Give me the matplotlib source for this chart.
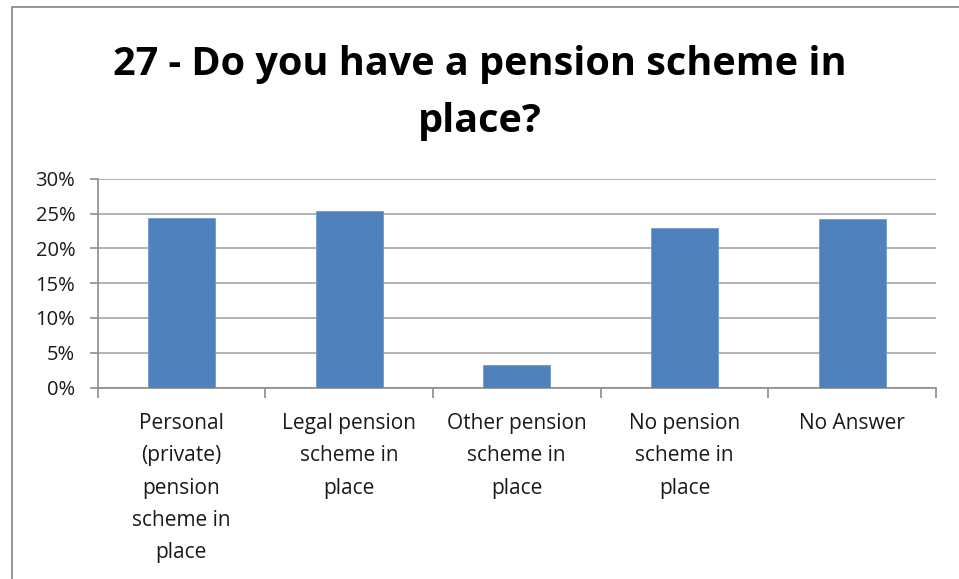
import matplotlib
matplotlib.use("Agg")
import matplotlib.pyplot as plt
from matplotlib.ticker import FuncFormatter, FixedLocator, NullFormatter
from matplotlib.patches import Rectangle

categories = ["Personal\n(private)\npension\nscheme in\nplace",
              "Legal pension\nscheme in\nplace",
              "Other pension\nscheme in\nplace",
              "No pension\nscheme in\nplace",
              "No Answer"]
values = [24.4, 25.4, 3.2, 22.9, 24.2]
yticks = [0, 5, 10, 15, 20, 25, 30]
title = "27 - Do you have a pension scheme in\nplace?"

W, H = 959, 579
fig = plt.figure(figsize=(W / 100, H / 100), dpi=100)
fig.patch.set_facecolor("white")

# outer chart border
fig.add_artist(Rectangle((12 / W, -0.01), 1.05, (H - 7) / H + 0.01, transform=fig.transFigure,
                         fill=False, edgecolor="#8c8c8c", linewidth=1.3))

left, right, top, bottom = 97.5, 936, 179, 387.5
ax = fig.add_axes([left / W, 1 - bottom / H, (right - left) / W, (bottom - top) / H])

x = list(range(len(categories)))
ax.bar(x, values, width=0.4, color="#4f81bd", edgecolor="#6f9ad0", linewidth=0.6, zorder=3)

ax.set_xlim(-0.5, len(categories) - 0.5)
ax.set_ylim(0, 30)
ax.set_yticks(yticks)
ax.yaxis.set_major_formatter(FuncFormatter(lambda v, p: f"{int(v)}%"))
ax.grid(axis="y", color="#a6a6a6", linewidth=1.2, zorder=0)

ax.xaxis.set_major_locator(FixedLocator([i - 0.5 for i in range(len(categories) + 1)]))
ax.xaxis.set_major_formatter(NullFormatter())
for i, c in enumerate(categories):
    ax.text(i, -0.122, c, transform=ax.get_xaxis_transform(), ha="center", va="top",
            fontsize=15, family="Open Sans", color="#1a1a1a", linespacing=1.71)

for s in ["top", "right"]:
    ax.spines[s].set_visible(False)
for s in ["left", "bottom"]:
    ax.spines[s].set_color("#8c8c8c")
    ax.spines[s].set_linewidth(1.2)
ax.tick_params(axis="x", length=7, color="#8c8c8c", width=1.2)
ax.tick_params(axis="y", length=6, color="#8c8c8c", width=1.2, labelsize=14.5,
               labelcolor="#1a1a1a", pad=10)
for lab in ax.get_yticklabels():
    lab.set_family("Open Sans")

fig.text(0.5, 1 - 93 / H, title, ha="center", va="center", fontsize=28.5, fontweight="bold",
         family="Open Sans", color="black", linespacing=1.62)

fig.savefig("out.png", dpi=100)
